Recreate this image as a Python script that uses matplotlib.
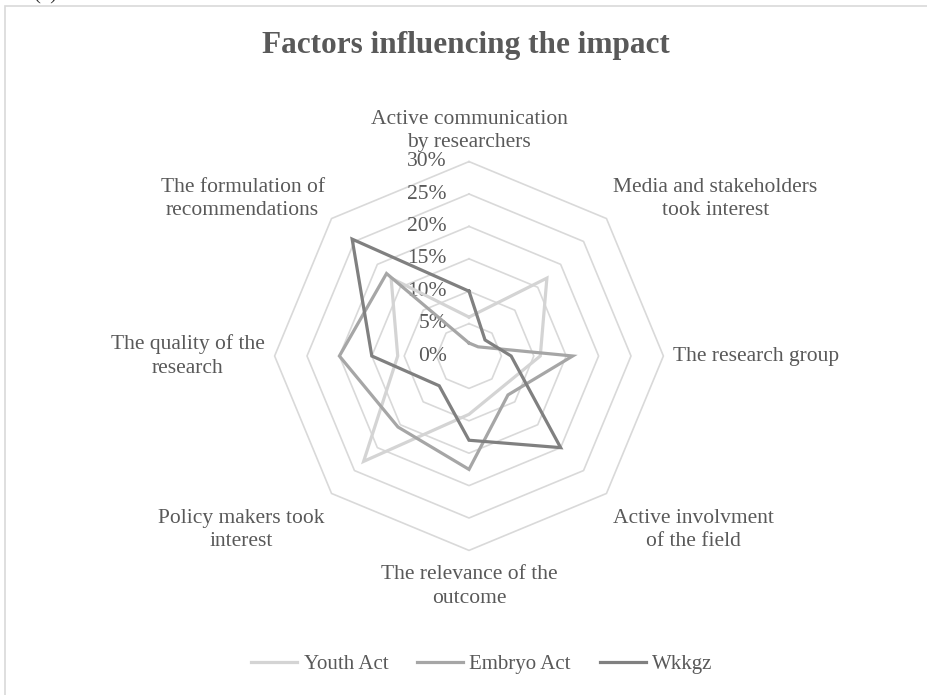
import numpy as np
import matplotlib
matplotlib.use('Agg')
import matplotlib.pyplot as plt
from matplotlib.patches import Rectangle
from matplotlib.lines import Line2D

plt.rcParams['font.family'] = ['Liberation Serif', 'DejaVu Serif']

categories = ['Active communication\nby researchers',
              'Media and stakeholders\ntook interest',
              'The research group',
              'Active involvment\nof the field',
              'The relevance of the\noutcome',
              'Policy makers took\ninterest',
              'The quality of the\nresearch',
              'The formulation of\nrecommendations']
youth = [6, 17, 11, 7, 9, 23, 11, 17]
embryo = [2, 2, 16, 8.5, 17.5, 15.5, 20, 18]
wkkgz = [10, 3.5, 6.5, 20, 13, 6.5, 15, 25.5]
series_names = ['Youth Act', 'Embryo Act', 'Wkkgz']
ticks = [0, 5, 10, 15, 20, 25, 30]

TXT = '#595959'
GRID = '#d9d9d9'
colors = ['#d4d4d4', '#a6a6a6', '#808080']

W, H = 927, 695
fig = plt.figure(figsize=(W / 100, H / 100), dpi=100)

# chart area border (right/bottom run off the picture)
fig.patches.append(Rectangle((5 / W, -0.1), 1.2, 1.1 - 6 / H, transform=fig.transFigure,
                             fill=False, edgecolor=GRID, lw=1.2))
# caption mostly cut off at the top, as in the source
fig.text(33 / W, 1 + 1 / H, '(b)', va='baseline', ha='left', fontsize=15, color='#333333')

px = 6.48  # pixels per percent
cx, cy = 469, 356
half = 300
ax = fig.add_axes([(cx - half) / W, (H - cy - half) / H, 2 * half / W, 2 * half / H])
ax.set_xlim(-half / px, half / px)
ax.set_ylim(-half / px, half / px)
ax.axis('off')

n = len(categories)
ang = np.arange(n) * 2 * np.pi / n
ang_c = np.append(ang, ang[0])

# octagon grid
for t in ticks[1:]:
    ax.plot(t * np.sin(ang_c), t * np.cos(ang_c), color=GRID, lw=1.2, zorder=1)

for t in ticks:
    ax.text(-3.4, t, f'{t}%', ha='right', va='center', fontsize=15.5, color=TXT, zorder=2)

handles = []
for vals, col, name in zip([youth, embryo, wkkgz], colors, series_names):
    v = np.append(vals, vals[0])
    ax.plot(v * np.sin(ang_c), v * np.cos(ang_c), color=col, lw=2.3, zorder=3,
            solid_joinstyle='miter')
    handles.append(Line2D([], [], color=col, lw=2.3))

# category labels
r_lab = 31.5
for a, lab in zip(ang, categories):
    s, c = np.sin(a), np.cos(a)
    ha = 'center' if abs(s) < 0.1 else ('left' if s > 0 else 'right')
    va = 'center' if abs(c) < 0.1 else ('bottom' if c > 0 else 'top')
    x, y = r_lab * s, r_lab * c
    if abs(s) > 0.1 and abs(c) > 0.1:
        y -= 1.3
    elif c < -0.1:
        y -= 0.8
    ax.text(x, y, lab, ha=ha, va=va, multialignment='center',
            fontsize=15.5, color=TXT, linespacing=1.3, clip_on=False)

fig.text(466 / W, 1 - 45 / H, 'Factors influencing the impact', ha='center', va='center',
         fontsize=22.5, fontweight='bold', color=TXT)

fig.legend(handles, series_names, loc='center', bbox_to_anchor=(482 / W, 31 / H), ncol=3,
           frameon=False, fontsize=15, labelcolor=TXT, handlelength=2.2, handletextpad=0.3,
           columnspacing=1.4)

fig.savefig('out.png', dpi=100)
